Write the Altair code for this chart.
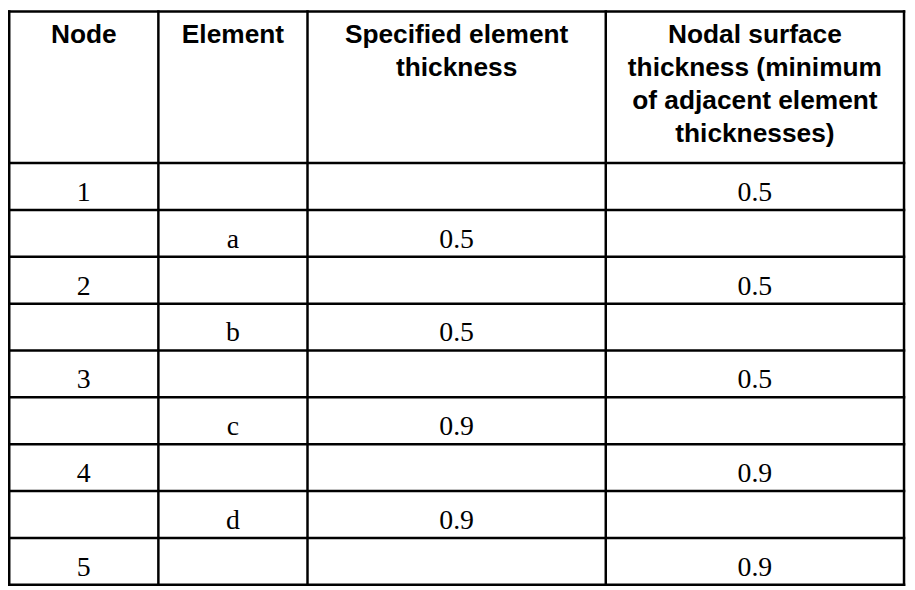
import altair as alt
import pandas as pd

# ---- table content ----
headers = [
    "Node",
    "Element",
    "Specified element\nthickness",
    "Nodal  surface\nthickness (minimum\nof adjacent element\nthicknesses)",
]
node_col = ["1", "", "2", "", "3", "", "4", "", "5"]
element_col = ["", "a", "", "b", "", "c", "", "d", ""]
specified_col = ["", "0.5", "", "0.5", "", "0.9", "", "0.9", ""]
nodal_col = ["0.5", "", "0.5", "", "0.5", "", "0.9", "", "0.9"]

# ---- layout (in column / row units) ----
col_edges = [0, 1, 2, 4, 6]
HEADER_H = 3.236
n_rows = len(node_col)
TOTAL = HEADER_H + n_rows

W, H = 906, 582
LW = 2.5
LEFT, RIGHT = 1.25, 903.0      # border positions inside the view (px)
TOP, BOTTOM = 1.25, 579.0
px_x = (RIGHT - LEFT) / col_edges[-1]
px_y = (BOTTOM - TOP) / TOTAL
x_dom = [-LEFT / px_x, col_edges[-1] + (W - RIGHT) / px_x]
y_dom = [-TOP / px_y, TOTAL + (H - BOTTOM) / px_y]

xs = alt.Scale(domain=x_dom, nice=False, zero=False)
ys = alt.Scale(domain=y_dom, nice=False, zero=False, reverse=True)

columns = [node_col, element_col, specified_col, nodal_col]
cell_rows = []
for j, col in enumerate(columns):
    cx = (col_edges[j] + col_edges[j + 1]) / 2
    for i, v in enumerate(col):
        if v:
            cell_rows.append({"x": cx, "y": HEADER_H + i + 0.5, "label": v})
cells = pd.DataFrame(cell_rows)

head = pd.DataFrame({
    "x": [(col_edges[j] + col_edges[j + 1]) / 2 for j in range(len(headers))],
    "y": [0.0] * len(headers),
    "label": headers,
})

h_y = [0.0] + [HEADER_H + i for i in range(n_rows + 1)]
hlines = pd.DataFrame({"y": h_y, "x": [0] * len(h_y), "x2": [col_edges[-1]] * len(h_y)})
vlines = pd.DataFrame({"x": col_edges, "y": [0] * len(col_edges), "y2": [TOTAL] * len(col_edges)})

h_rule = alt.Chart(hlines).mark_rule(color="black", strokeWidth=LW, strokeCap="square").encode(
    x=alt.X("x:Q", scale=xs, axis=None),
    x2="x2:Q",
    y=alt.Y("y:Q", scale=ys, axis=None),
)
v_rule = alt.Chart(vlines).mark_rule(color="black", strokeWidth=LW, strokeCap="square").encode(
    x=alt.X("x:Q", scale=xs, axis=None),
    y=alt.Y("y:Q", scale=ys, axis=None),
    y2="y2:Q",
)
head_text = alt.Chart(head).mark_text(
    font="Liberation Sans", fontWeight="bold", fontSize=26.5, color="black",
    align="center", baseline="alphabetic", lineBreak="\n", lineHeight=33.5, dy=31.5,
).encode(
    x=alt.X("x:Q", scale=xs, axis=None),
    y=alt.Y("y:Q", scale=ys, axis=None),
    text="label:N",
)
cell_text = alt.Chart(cells).mark_text(
    font="Liberation Serif", fontSize=28, color="black",
    align="center", baseline="alphabetic", dy=14.5,
).encode(
    x=alt.X("x:Q", scale=xs, axis=None),
    y=alt.Y("y:Q", scale=ys, axis=None),
    text="label:N",
)

chart = alt.layer(h_rule, v_rule, head_text, cell_text).properties(
    width=W, height=H, padding=0, background="white",
    autosize=alt.AutoSizeParams(type="none"),
).configure_view(stroke=None)

chart.save("out.html", embed_options={"renderer": "svg", "actions": False})
